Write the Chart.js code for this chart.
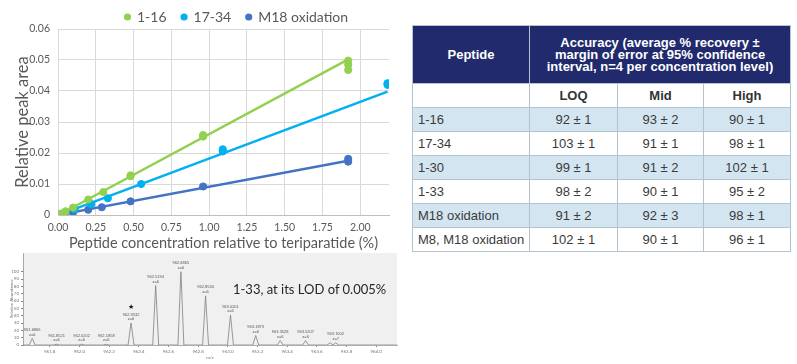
<!DOCTYPE html>
<html>
<head>
<meta charset="utf-8">
<script src="https://cdn.jsdelivr.net/npm/chart.js@4.4.1/dist/chart.umd.min.js"></script>
<style>
    html, body { margin: 0; padding: 0; background: #fff; }
    body { width: 797px; height: 364px; position: relative; overflow: hidden; font-family: "Liberation Sans", Arial, sans-serif; }
    #calChart { position: absolute; left: 0; top: 0; }
    #specChart { position: absolute; left: 0; top: 248px; }
    #lodNote { position: absolute; left: 233px; top: 281px; font: 13px Lato, sans-serif; color: #262626; white-space: nowrap; }
    #accTable { position: absolute; left: 412px; top: 25px; width: 378px; border-collapse: collapse; table-layout: fixed; }
    #accTable td, #accTable th { border: 1px solid #b3c3cf; padding: 0; text-align: center; color: #3b3b3b; font-size: 13px; }
    #accTable th { background: #202a6c; color: #fff; font-weight: bold; line-height: 12px; height: 57px; }
    #accTable tr.lvl td { font-weight: bold; color: #333; height: 23px; }
    #accTable tr.row td { height: 23px; }
    #accTable tr.row td:first-child { text-align: left; padding-left: 5px; }
    #accTable tr.shade td { background: #d3e5f0; }
</style>
</head>
<body>
<canvas id="calChart" width="400" height="258"></canvas>
<canvas id="specChart" width="400" height="116"></canvas>
<div id="lodNote">1-33, at its LOD of 0.005%</div>
<table id="accTable">
    <colgroup><col style="width:117px"><col style="width:88px"><col style="width:86px"><col style="width:87px"></colgroup>
    <thead>
        <tr><th>Peptide</th><th colspan="3">Accuracy (average % recovery ±<br>margin of error at 95% confidence<br>interval, n=4 per concentration level)</th></tr>
    </thead>
    <tbody id="accBody"></tbody>
</table>
<script>
// ---------- calibration data ----------
const conc116 = [0.02, 0.05, 0.10, 0.20, 0.30, 0.48, 0.48, 0.96, 0.96, 1.92, 1.92, 1.92];
const area116 = [0.0004, 0.0012, 0.0024, 0.0050, 0.0074, 0.0125, 0.0128, 0.0258, 0.0253, 0.0498, 0.0485, 0.0468];
const conc1734 = [0.02, 0.05, 0.11, 0.22, 0.33, 0.55, 1.09, 1.09, 2.18, 2.18];
const area1734 = [0.0004, 0.0009, 0.0018, 0.0035, 0.0054, 0.0100, 0.0212, 0.0205, 0.0425, 0.0420];
const concM18 = [0.02, 0.05, 0.10, 0.20, 0.29, 0.48, 0.96, 1.92, 1.92];
const areaM18 = [0.0002, 0.0005, 0.0009, 0.0017, 0.0025, 0.0044, 0.0092, 0.0181, 0.0172];

// trend line end points
const trend116X = [0.02, 1.92];
const trend116Y = [0.0004, 0.0502];
const trend1734X = [0.02, 2.18];
const trend1734Y = [0.0003, 0.0398];
const trendM18X = [0.02, 1.92];
const trendM18Y = [0.0002, 0.0175];

const seriesNames = ['1-16', '17-34', 'M18 oxidation'];
const xTicks = [0, 0.25, 0.5, 0.75, 1.0, 1.25, 1.5, 1.75, 2.0];
const xTickLabels = ['0.00', '0.25', '0.50', '0.75', '1.00', '1.25', '1.50', '1.75', '2.00'];
const yTicks = [0, 0.01, 0.02, 0.03, 0.04, 0.05, 0.06];
const yTickLabels = ['0', '0.01', '0.02', '0.03', '0.04', '0.05', '0.06'];

// ---------- spectrum inset data ----------
const specMz = [961.682, 961.846, 962.015, 962.181, 962.348, 962.514, 962.684, 962.850, 963.018, 963.188, 963.353, 963.524, 963.689, 963.727];
const specAbund = [9, 1, 1, 1, 30, 81, 100, 67, 41, 13, 6, 6, 3, 3];
const specLabels = ['961.6866', '961.8521', '962.0202', '962.1858', '962.3532', '962.5194', '962.6865', '962.8534', '963.0201', '963.1873', '963.3528', '963.5207', '', '963.7002'];
const specCharge = [6, 6, 6, 6, 6, 6, 6, 6, 6, 6, 6, 6, 0, 7];
const specStarred = [4];
const specXTicks = [961.8, 962.0, 962.2, 962.4, 962.6, 962.8, 963.0, 963.2, 963.4, 963.6, 963.8, 964.0];
const specYTicks = [0, 10, 20, 30, 40, 50, 60, 70, 80, 90, 100];

// ---------- accuracy table ----------
const peptides = ['1-16', '17-34', '1-30', '1-33', 'M18 oxidation', 'M8, M18 oxidation'];
const levels = ['LOQ', 'Mid', 'High'];
const accLOQ = ['92 ± 1', '103 ± 1', '99 ± 1', '98 ± 2', '91 ± 2', '102 ± 1'];
const accMid = ['93 ± 2', '91 ± 1', '91 ± 2', '90 ± 1', '92 ± 3', '90 ± 1'];
const accHigh = ['90 ± 1', '98 ± 1', '102 ± 1', '95 ± 2', '98 ± 1', '96 ± 1'];

const green = '#92d050';
const cyan = '#00b0f0';
const blue = '#4472c4';
const textGray = '#595959';

Chart.defaults.font.family = 'Lato, sans-serif';
Chart.defaults.animation = false;

function pts(xs, ys) {
    return xs.map((x, i) => ({ x: x, y: ys[i] }));
}

// table body
(function buildTable() {
    const body = document.getElementById('accBody');
    let html = '<tr class="lvl"><td></td>' + levels.map(l => `<td>${l}</td>`).join('') + '</tr>';
    peptides.forEach((p, i) => {
        html += `<tr class="row${i % 2 === 0 ? ' shade' : ''}"><td>${p}</td><td>${accLOQ[i]}</td><td>${accMid[i]}</td><td>${accHigh[i]}</td></tr>`;
    });
    body.innerHTML = html;
})();

// legend drawn at the top, centred over the plot like the original
const topLegend = {
    id: 'topLegend',
    afterDraw(chart) {
        const ctx = chart.ctx;
        ctx.save();
        ctx.font = '14px Lato, sans-serif';
        ctx.textBaseline = 'middle';
        let x = 124;
        const y = 17;
        chart.data.datasets.slice(0, 3).forEach(ds => {
            ctx.fillStyle = ds.backgroundColor;
            ctx.beginPath();
            ctx.arc(x + 3.5, y, 3.6, 0, Math.PI * 2);
            ctx.fill();
            ctx.fillStyle = textGray;
            ctx.fillText(ds.label, x + 13, y + 0.5);
            x += 13 + ctx.measureText(ds.label).width + 14;
        });
        ctx.restore();
    }
};

const calChart = new Chart(document.getElementById('calChart'), {
    type: 'scatter',
    data: {
        datasets: [
            { label: seriesNames[0], data: pts(conc116, area116), backgroundColor: green, borderColor: green, pointRadius: 3.6 },
            { label: seriesNames[1], data: pts(conc1734, area1734), backgroundColor: cyan, borderColor: cyan, pointRadius: 3.6 },
            { label: seriesNames[2], data: pts(concM18, areaM18), backgroundColor: blue, borderColor: blue, pointRadius: 3.6 },
            { label: 'trend 1-16', data: pts(trend116X, trend116Y), showLine: true, borderColor: green, borderWidth: 2.5, pointRadius: 0 },
            { label: 'trend 17-34', data: pts(trend1734X, trend1734Y), showLine: true, borderColor: cyan, borderWidth: 2.5, pointRadius: 0 },
            { label: 'trend M18', data: pts(trendM18X, trendM18Y), showLine: true, borderColor: blue, borderWidth: 2.5, pointRadius: 0 }
        ]
    },
    options: {
        responsive: false,
        layout: { padding: { top: 29, right: 11, left: 0, bottom: 0 } },
        plugins: { legend: { display: false }, tooltip: { enabled: false } },
        scales: {
            x: {
                type: 'linear', min: 0, max: 2.19,
                afterBuildTicks: s => { s.ticks = xTicks.map(v => ({ value: v })); },
                afterFit: s => { s.height = 43; },
                ticks: { color: textGray, font: { size: 10.5 }, padding: 6, callback: v => xTickLabels[xTicks.indexOf(v)] },
                grid: { color: '#d9d9d9', drawTicks: false },
                border: { color: '#bfbfbf' },
                title: { display: true, text: 'Peptide concentration relative to teriparatide (%)', color: textGray, font: { size: 14.5 }, padding: { top: 0, bottom: 6 } }
            },
            y: {
                min: 0, max: 0.06,
                afterBuildTicks: s => { s.ticks = yTicks.map(v => ({ value: v })); },
                afterFit: s => { s.width = 58; },
                ticks: { color: textGray, font: { size: 10.5 }, padding: 8, callback: (v, i) => yTickLabels[i] },
                grid: { color: '#d9d9d9', drawTicks: false },
                border: { color: '#d9d9d9' },
                title: { display: true, text: 'Relative peak area', color: textGray, font: { size: 16.5 }, padding: { top: 13, bottom: 0 } }
            }
        }
    },
    plugins: [topLegend]
});

// ---------- spectrum inset ----------
const peakHalfWidth = 0.02;
const specProfile = [{ x: 961.62, y: 0 }];
specMz.forEach((mz, i) => {
    specProfile.push({ x: mz - peakHalfWidth, y: 0 }, { x: mz, y: specAbund[i] }, { x: mz + peakHalfWidth, y: 0 });
});
specProfile.push({ x: 964.14, y: 0 });

const specDecor = {
    id: 'specDecor',
    beforeDraw(chart) {
        const a = chart.chartArea;
        chart.ctx.save();
        chart.ctx.fillStyle = '#f0f0f0';
        chart.ctx.fillRect(a.left, a.top, a.right - a.left, a.bottom - a.top);
        chart.ctx.restore();
    },
    afterDatasetsDraw(chart) {
        const ctx = chart.ctx, xs = chart.scales.x, ys = chart.scales.y;
        ctx.save();
        ctx.fillStyle = '#555';
        ctx.textAlign = 'center';
        ctx.textBaseline = 'middle';
        ctx.font = '4px "Liberation Sans", Arial';
        specMz.forEach((mz, i) => {
            if (!specLabels[i]) return;
            const px = xs.getPixelForValue(mz);
            const py = ys.getPixelForValue(specAbund[i]);
            ctx.fillText(specLabels[i], px, py - 8.5);
            ctx.fillText('z=' + specCharge[i], px, py - 4);
        });
        ctx.fillStyle = '#111';
        ctx.font = '7px "DejaVu Sans"';
        specStarred.forEach(i => {
            ctx.fillText('★', xs.getPixelForValue(specMz[i]), ys.getPixelForValue(specAbund[i]) - 16);
        });
        ctx.restore();
    }
};

const specChart = new Chart(document.getElementById('specChart'), {
    type: 'scatter',
    data: { datasets: [{ data: specProfile, showLine: true, borderColor: '#808080', borderWidth: 0.8, pointRadius: 0 }] },
    options: {
        responsive: false,
        layout: { padding: { top: 5, right: 3, left: 0, bottom: 0 } },
        plugins: { legend: { display: false }, tooltip: { enabled: false } },
        scales: {
            x: {
                type: 'linear', min: 961.62, max: 964.14,
                afterBuildTicks: s => { s.ticks = specXTicks.map(v => ({ value: v })); },
                afterFit: s => { s.height = 19; },
                ticks: { color: '#777', font: { size: 4.5 }, padding: 2, callback: v => v.toFixed(1) },
                grid: { display: true, drawOnChartArea: false, tickLength: 2, color: '#888' },
                border: { color: '#888', width: 0.7 },
                title: { display: true, text: 'm/z', color: '#777', font: { size: 4.5 }, padding: { top: 0, bottom: 4 } }
            },
            y: {
                min: 0, max: 125.5,
                afterBuildTicks: s => { s.ticks = specYTicks.map(v => ({ value: v })); },
                afterFit: s => { s.width = 23; },
                ticks: { color: '#777', font: { size: 4.5 }, padding: 2, callback: v => v },
                grid: { display: true, drawOnChartArea: false, tickLength: 2, color: '#888' },
                border: { color: '#888', width: 0.7 },
                title: { display: true, text: 'Relative Abundance', color: '#777', font: { size: 4.5 }, padding: { top: 9, bottom: 0 } }
            }
        }
    },
    plugins: [specDecor]
});
</script>
</body>
</html>
